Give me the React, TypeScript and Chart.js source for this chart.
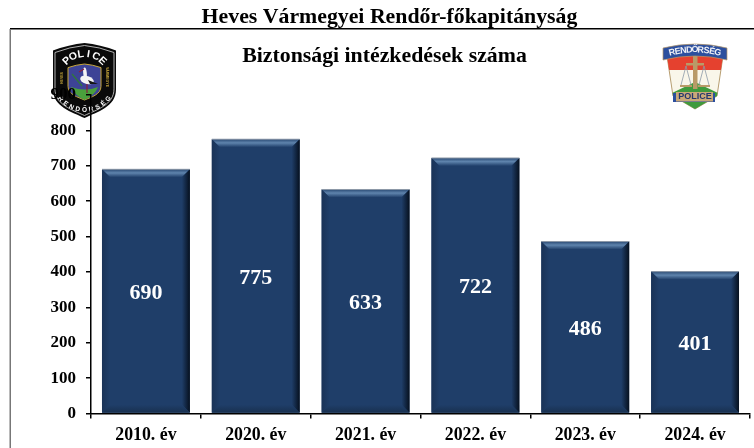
import React, { useEffect, useRef } from "react";
import { Chart, registerables } from "chart.js";

Chart.register(...registerables);

const categories = ["2010. év", "2020. év", "2021. év", "2022. év", "2023. év", "2024. év"];
const values = [690, 775, 633, 722, 486, 401];
const yMax = 900;
const yStep = 100;
const pageTitle = "Heves Vármegyei Rendőr-főkapitányság";
const chartTitle = "Biztonsági intézkedések száma";

const SERIF = '"Liberation Serif", "Times New Roman", serif';
const BAR = "#1f3e69";

function arcText(ctx: CanvasRenderingContext2D, text: string, cx: number, cy: number, r: number, span: number, top: boolean) {
  const n = text.length;
  for (let i = 0; i < n; i++) {
    const t = n > 1 ? i / (n - 1) - 0.5 : 0;
    const a = (top ? -Math.PI / 2 : Math.PI / 2) + (top ? t : -t) * span;
    ctx.save();
    ctx.translate(cx + r * Math.cos(a), cy + r * Math.sin(a));
    ctx.rotate(top ? a + Math.PI / 2 : a - Math.PI / 2);
    ctx.fillText(text[i], 0, 0);
    ctx.restore();
  }
}

function shieldPath(ctx: CanvasRenderingContext2D, x0: number, y0: number, w: number, h: number) {
  const cx = x0 + w / 2;
  ctx.beginPath();
  ctx.moveTo(cx, y0);
  ctx.quadraticCurveTo(x0 + w * 0.75, y0 + h * 0.02, x0 + w, y0 + h * 0.1);
  ctx.lineTo(x0 + w, y0 + h * 0.62);
  ctx.bezierCurveTo(x0 + w, y0 + h * 0.85, x0 + w * 0.7, y0 + h * 0.92, cx, y0 + h);
  ctx.bezierCurveTo(x0 + w * 0.3, y0 + h * 0.92, x0, y0 + h * 0.85, x0, y0 + h * 0.62);
  ctx.lineTo(x0, y0 + h * 0.1);
  ctx.quadraticCurveTo(x0 + w * 0.25, y0 + h * 0.02, cx, y0);
  ctx.closePath();
}

function drawLeftBadge(ctx: CanvasRenderingContext2D) {
  ctx.save();
  ctx.filter = "blur(0.5px)";
  shieldPath(ctx, 53, 43, 63, 75);
  ctx.fillStyle = "#0a0a0a";
  ctx.fill();
  shieldPath(ctx, 55, 45.5, 59, 70);
  ctx.strokeStyle = "#c4c4c4";
  ctx.lineWidth = 0.9;
  ctx.stroke();
  shieldPath(ctx, 68, 64, 33, 36);
  ctx.fillStyle = "#3d4396";
  ctx.fill();
  ctx.strokeStyle = "#c9a83a";
  ctx.lineWidth = 1;
  ctx.stroke();
  ctx.beginPath();
  ctx.moveTo(71, 87);
  ctx.quadraticCurveTo(85, 92, 98, 87);
  ctx.quadraticCurveTo(95, 95, 84.5, 100);
  ctx.quadraticCurveTo(74, 95, 71, 87);
  ctx.fillStyle = "#4aa03c";
  ctx.fill();
  ctx.fillStyle = "#f4f4f4";
  ctx.beginPath();
  ctx.ellipse(87, 80, 7, 4, 0.3, 0, Math.PI * 2);
  ctx.fill();
  ctx.beginPath();
  ctx.ellipse(85, 73, 1.8, 5.5, -0.1, 0, Math.PI * 2);
  ctx.fill();
  ctx.fillStyle = "#151515";
  ctx.beginPath();
  ctx.moveTo(88, 80);
  ctx.lineTo(98, 84);
  ctx.lineTo(90, 84);
  ctx.closePath();
  ctx.fill();
  ctx.strokeStyle = "#8a1f3c";
  ctx.lineWidth = 1.2;
  ctx.beginPath();
  ctx.moveTo(87, 84);
  ctx.lineTo(87, 93);
  ctx.moveTo(84, 69);
  ctx.lineTo(79, 72);
  ctx.stroke();
  ctx.strokeStyle = "#2f7a3a";
  ctx.beginPath();
  ctx.moveTo(72, 74);
  ctx.lineTo(82, 86);
  ctx.stroke();
  ctx.fillStyle = "#ffffff";
  ctx.textAlign = "center";
  ctx.textBaseline = "middle";
  ctx.font = 'bold 10.5px "Liberation Sans", sans-serif';
  arcText(ctx, "POLICE", 84.5, 80, 26, 1.5, true);
  ctx.font = 'bold 6.5px "Liberation Sans", sans-serif';
  arcText(ctx, "RENDŐRSÉG", 84.5, 79, 31, 1.75, false);
  ctx.fillStyle = "#c9a83a";
  ctx.font = 'bold 3.5px "Liberation Sans", sans-serif';
  ctx.save();
  ctx.translate(62, 78);
  ctx.rotate(-Math.PI / 2);
  ctx.fillText("HEVES", 0, 0);
  ctx.restore();
  ctx.save();
  ctx.translate(107, 77);
  ctx.rotate(Math.PI / 2);
  ctx.fillText("VÁRMEGYE", 0, 0);
  ctx.restore();
  ctx.restore();
}

function drawRightBadge(ctx: CanvasRenderingContext2D) {
  ctx.save();
  ctx.filter = "blur(0.6px)";
  ctx.beginPath();
  ctx.moveTo(667, 56);
  ctx.lineTo(723, 56);
  ctx.lineTo(717, 96);
  ctx.lineTo(695, 109);
  ctx.lineTo(673, 96);
  ctx.closePath();
  ctx.fillStyle = "#f9f6ea";
  ctx.fill();
  ctx.strokeStyle = "#a5854f";
  ctx.lineWidth = 0.8;
  ctx.stroke();
  ctx.save();
  ctx.clip();
  ctx.fillStyle = "#e5412f";
  ctx.fillRect(660, 52, 70, 18);
  ctx.fillStyle = "#3f9a3c";
  ctx.beginPath();
  ctx.moveTo(672, 93);
  ctx.lineTo(695, 82);
  ctx.lineTo(718, 93);
  ctx.lineTo(718, 112);
  ctx.lineTo(672, 112);
  ctx.closePath();
  ctx.fill();
  ctx.restore();
  ctx.strokeStyle = "#8d9aa8";
  ctx.lineWidth = 0.8;
  ctx.beginPath();
  ctx.moveTo(686, 66);
  ctx.lineTo(681, 85);
  ctx.moveTo(686, 66);
  ctx.lineTo(691, 85);
  ctx.moveTo(704, 66);
  ctx.lineTo(699, 85);
  ctx.moveTo(704, 66);
  ctx.lineTo(709, 85);
  ctx.stroke();
  ctx.fillStyle = "#b99a68";
  ctx.fillRect(693, 56, 4.5, 33);
  ctx.fillRect(686, 63, 18, 2.5);
  ctx.fillRect(680, 85, 12, 2);
  ctx.fillRect(698, 85, 12, 2);
  ctx.fillStyle = "#2c4f9e";
  ctx.strokeStyle = "#b99a68";
  ctx.lineWidth = 0.7;
  ctx.beginPath();
  ctx.moveTo(663, 48);
  ctx.quadraticCurveTo(695, 40, 727, 48);
  ctx.lineTo(727, 60);
  ctx.quadraticCurveTo(695, 52, 663, 60);
  ctx.closePath();
  ctx.fill();
  ctx.stroke();
  ctx.fillStyle = "#eef0f6";
  ctx.textAlign = "center";
  ctx.textBaseline = "middle";
  ctx.font = 'bold 9px "Liberation Sans", sans-serif';
  arcText(ctx, "RENDŐRSÉG", 695, 148, 98, 0.47, true);
  ctx.fillStyle = "#2c4f9e";
  ctx.fillRect(673, 93, 42, 9);
  ctx.fillStyle = "#c9a878";
  ctx.fillRect(676, 92, 37, 9.5);
  ctx.fillStyle = "#24386e";
  ctx.font = 'bold 9px "Liberation Sans", sans-serif';
  ctx.fillText("POLICE", 695, 97);
  ctx.restore();
}

const decor = {
  id: "decor",
  beforeDraw(chart: any) {
    const { ctx, width, height } = chart;
    ctx.save();
    ctx.fillStyle = "#ffffff";
    ctx.fillRect(0, 0, width, height);
    ctx.fillStyle = "#000000";
    ctx.fillRect(10, 28, width - 10, 1.5);
    ctx.fillStyle = "#777777";
    ctx.fillRect(9.5, 29, 1.5, height - 29);
    ctx.textAlign = "center";
    ctx.textBaseline = "middle";
    ctx.fillStyle = "#000000";
    ctx.font = `bold 21.8px ${SERIF}`;
    ctx.fillText(pageTitle, 389.5, 17);
    ctx.fillText(chartTitle, 384.5, 56.5);
    ctx.restore();
    drawLeftBadge(ctx);
    drawRightBadge(ctx);
  },
  afterDatasetsDraw(chart: any) {
    const { ctx } = chart;
    const bars = chart.getDatasetMeta(0).data;
    bars.forEach((bar: any, i: number) => {
      const l = bar.x - bar.width / 2;
      const r = bar.x + bar.width / 2;
      const t = bar.y;
      const b = bar.base;
      const e = 8;
      ctx.save();
      const top = ctx.createLinearGradient(0, t, 0, t + e);
      top.addColorStop(0, "#2a4a74");
      top.addColorStop(0.45, "#5f84ad");
      top.addColorStop(1, BAR);
      ctx.fillStyle = top;
      ctx.beginPath();
      ctx.moveTo(l, t);
      ctx.lineTo(r, t);
      ctx.lineTo(r - e, t + e);
      ctx.lineTo(l + e, t + e);
      ctx.closePath();
      ctx.fill();
      const right = ctx.createLinearGradient(r - e, 0, r, 0);
      right.addColorStop(0, BAR);
      right.addColorStop(1, "#06101e");
      ctx.fillStyle = right;
      ctx.beginPath();
      ctx.moveTo(r, t);
      ctx.lineTo(r, b);
      ctx.lineTo(r - e, b - e);
      ctx.lineTo(r - e, t + e);
      ctx.closePath();
      ctx.fill();
      const left = ctx.createLinearGradient(l, 0, l + e, 0);
      left.addColorStop(0, "#1a3357");
      left.addColorStop(1, BAR);
      ctx.fillStyle = left;
      ctx.beginPath();
      ctx.moveTo(l, t);
      ctx.lineTo(l + e, t + e);
      ctx.lineTo(l + e, b - e);
      ctx.lineTo(l, b);
      ctx.closePath();
      ctx.fill();
      const bottom = ctx.createLinearGradient(0, b - e, 0, b);
      bottom.addColorStop(0, BAR);
      bottom.addColorStop(1, "#18304f");
      ctx.fillStyle = bottom;
      ctx.beginPath();
      ctx.moveTo(l, b);
      ctx.lineTo(l + e, b - e);
      ctx.lineTo(r - e, b - e);
      ctx.lineTo(r, b);
      ctx.closePath();
      ctx.fill();
      ctx.fillStyle = "#8d99a8";
      ctx.fillRect(l, t - 0.5, r - l, 1);
      ctx.fillStyle = "#ffffff";
      ctx.font = `bold 22px ${SERIF}`;
      ctx.textAlign = "center";
      ctx.textBaseline = "middle";
      ctx.fillText(String(values[i]), bar.x, (t + b) / 2 + 2);
      ctx.restore();
    });
  },
};

export default function App() {
  const ref = useRef<HTMLCanvasElement>(null);
  useEffect(() => {
    document.body.style.margin = "0";
    const chart = new Chart(ref.current!, {
      type: "bar",
      data: {
        labels: categories,
        datasets: [
          {
            data: values,
            backgroundColor: BAR,
            barPercentage: 0.8,
            categoryPercentage: 1,
          },
        ],
      },
      options: {
        animation: false,
        responsive: false,
        layout: { padding: { top: 95, right: 4, left: 0, bottom: 0 } },
        plugins: { legend: { display: false }, tooltip: { enabled: false } },
        scales: {
          x: {
            afterFit(s: any) {
              s.height = 34.5;
            },
            border: { color: "#000000", width: 1.5 },
            grid: { drawOnChartArea: false, color: "#000000", tickLength: 5, lineWidth: 1.5 },
            ticks: {
              color: "#000000",
              font: { family: SERIF, weight: "bold", size: 17.8 },
              padding: 6,
              maxRotation: 0,
            },
          },
          y: {
            min: 0,
            max: yMax,
            afterFit(s: any) {
              s.width = 91;
            },
            border: { color: "#000000", width: 1.5 },
            grid: { drawOnChartArea: false, color: "#000000", tickLength: 5, lineWidth: 1.5 },
            ticks: {
              stepSize: yStep,
              color: "#000000",
              font: { family: SERIF, weight: "bold", size: 17 },
              padding: 10,
            },
          },
        },
      },
      plugins: [decor],
    } as any);
    return () => chart.destroy();
  }, []);
  return <canvas ref={ref} width={754} height={448} style={{ display: "block", width: 754, height: 448 }} />;
}
